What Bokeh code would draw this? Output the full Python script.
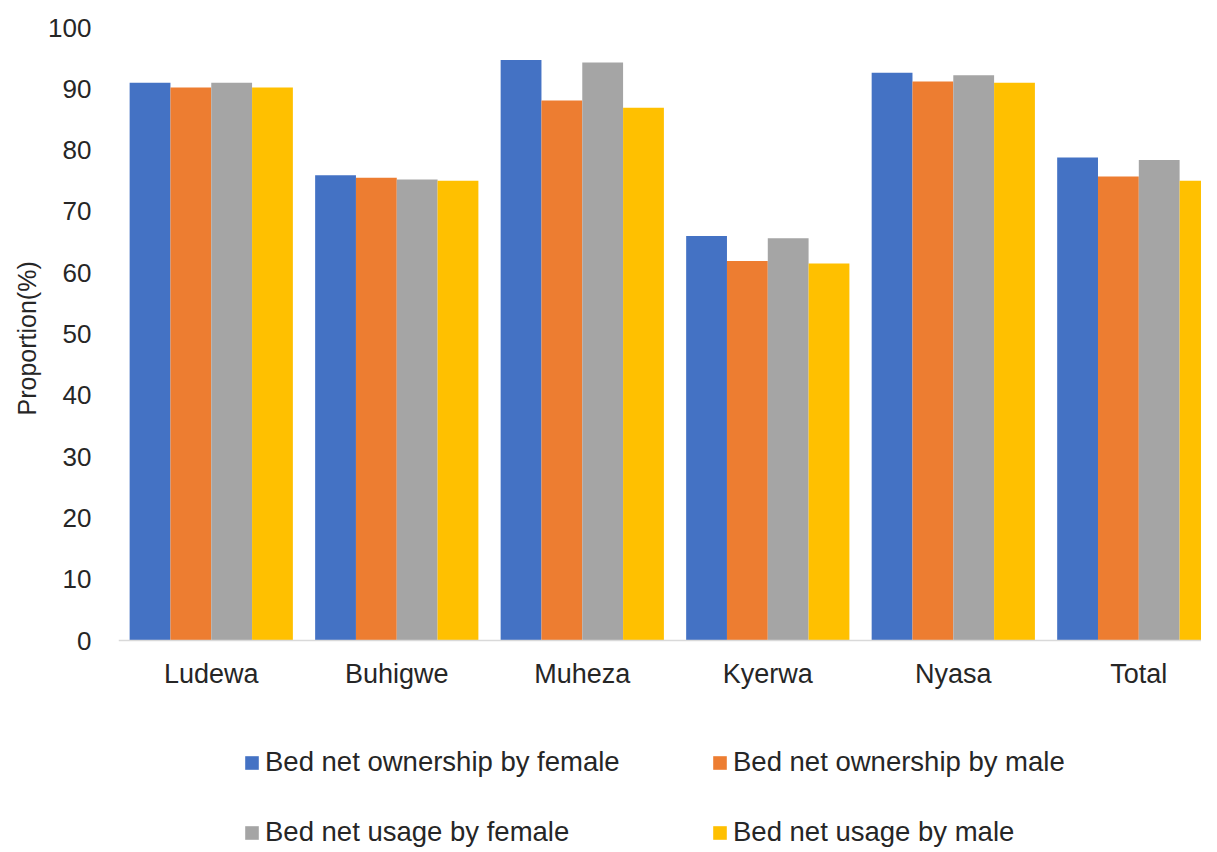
from bokeh.plotting import figure
from bokeh.models import ColumnDataSource, Legend, LegendItem, FixedTicker, Range1d, Title
from bokeh.transform import dodge
from bokeh.embed import file_html
from bokeh.resources import INLINE

districts = ["Ludewa", "Buhigwe", "Muheza", "Kyerwa", "Nyasa", "Total"]
own_female = [91.0, 75.9, 94.7, 66.0, 92.6, 78.8]
own_male = [90.2, 75.5, 88.1, 61.9, 91.2, 75.7]
use_female = [91.0, 75.2, 94.3, 65.6, 92.2, 78.4]
use_male = [90.2, 75.0, 86.9, 61.5, 91.0, 75.0]
y_ticks = [0, 10, 20, 30, 40, 50, 60, 70, 80, 90, 100]

series_names = ["Bed net ownership by female", "Bed net ownership by male",
                "Bed net usage by female", "Bed net usage by male"]
series_keys = ["own_female", "own_male", "use_female", "use_male"]
colors = ["#4472C4", "#ED7D31", "#A5A5A5", "#FFC000"]
offsets = [-0.33, -0.11, 0.11, 0.33]
bar_w = 0.22

FONT = "Liberation Sans"
TXT = "#262626"

src = ColumnDataSource(dict(x=list(range(len(districts))), own_female=own_female,
                            own_male=own_male, use_female=use_female, use_male=use_male))

p = figure(width=1201, height=848, output_backend="svg", toolbar_location=None,
           x_range=Range1d(-0.5, 5.338), y_range=Range1d(-33.93, 100))
p.min_border_left = 118
p.min_border_right = 0
p.min_border_top = 27
p.min_border_bottom = 0
p.outline_line_color = None
p.xgrid.grid_line_color = None
p.ygrid.grid_line_color = None

renderers = []
for key, col, off in zip(series_keys, colors, offsets):
    r = p.vbar(x=dodge("x", off), top=key, width=bar_w, source=src,
               fill_color=col, line_color=None)
    renderers.append(r)

p.xaxis.fixed_location = 0
p.xaxis.ticker = FixedTicker(ticks=list(range(len(districts))))
p.xaxis.major_label_overrides = {i: d for i, d in enumerate(districts)}
p.xaxis.major_tick_line_color = None
p.xaxis.minor_tick_line_color = None
p.xaxis.axis_line_color = "#D9D9D9"
p.xaxis.axis_line_width = 1.5
p.xaxis.major_label_text_font = FONT
p.xaxis.major_label_text_font_size = "27px"
p.xaxis.major_label_text_color = TXT
p.xaxis.major_label_standoff = 12

p.yaxis.ticker = FixedTicker(ticks=y_ticks)
p.yaxis.major_tick_line_color = None
p.yaxis.minor_tick_line_color = None
p.yaxis.axis_line_color = None
p.yaxis.major_label_text_font = FONT
p.yaxis.major_label_text_font_size = "26px"
p.yaxis.major_label_text_color = TXT
p.yaxis.major_label_standoff = 21

# y-axis title, centred on the 0-100 span like the reference
ytitle = Title(text="Proportion(%)", align="left", offset=433, standoff=10,
               text_font=FONT, text_font_size="25px", text_font_style="normal",
               text_color=TXT)
p.add_layout(ytitle, "left")

items = [LegendItem(label=n, renderers=[r]) for n, r in zip(series_names, renderers)]
legend = Legend(items=items, orientation="horizontal", ncols=2,
                location=(125, 0), padding=0, margin=0,
                spacing=38, label_width=408, glyph_width=17, glyph_height=17,
                label_standoff=5, border_line_color=None, background_fill_alpha=0,
                label_text_font=FONT, label_text_font_size="27.5px",
                label_text_color=TXT)
p.add_layout(legend, "center")

open("out.html", "w").write(file_html(p, INLINE))
